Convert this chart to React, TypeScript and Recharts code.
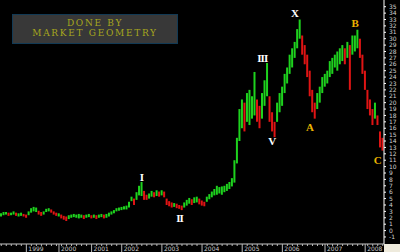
import React from 'react';
import { ComposedChart, Bar, Cell, XAxis, YAxis, ReferenceDot } from 'recharts';

// Daily-ish price bars (low / high)
const LOWS = [
  2.2, 2.4, 2.5, 2.3, 2.4, 2.5, 2.3, 2.2, 2.3, 2.2,
  2.0, 2.4, 2.8, 3.0, 2.9, 2.5, 2.3, 2.5, 2.9, 3.0,
  2.8, 2.5, 2.3, 2.2, 1.9, 1.7, 1.5, 1.8, 2.0, 2.1,
  2.0, 1.9, 2.0, 1.8, 2.0, 2.1, 1.9, 2.0, 1.8, 2.0,
  2.1, 1.9, 2.0, 2.2, 2.5, 2.7, 3.0, 3.1, 3.2, 3.3,
  3.3, 3.6, 4.6, 4.0, 4.8, 5.5, 5.4, 4.8, 4.8, 5.0,
  5.3, 5.2, 5.4, 5.3, 5.5, 5.2, 4.0, 3.8, 3.6, 3.7,
  3.5, 3.4, 3.2, 3.6, 3.9, 4.2, 4.0, 4.3, 4.4, 4.1,
  3.9, 3.8, 4.5, 4.9, 5.2, 5.5, 5.6, 5.8, 5.6, 6.0,
  6.2, 6.5, 6.9, 7.5, 10.5, 14.0, 16.0, 15.5, 17.0, 16.5,
  17.5, 18.0, 17.0, 16.0, 17.5, 19.5, 21.0, 17.0, 15.5, 14.6,
  17.0, 18.5, 19.5, 21.5, 23.0, 24.5, 25.5, 27.0, 28.5, 30.0,
  27.5, 26.0, 24.0, 21.0, 18.5, 17.5, 19.0, 20.0, 21.5, 22.5,
  23.0, 24.0, 24.5, 25.5, 25.0, 26.0, 26.5, 26.0, 27.0, 22.0,
  27.5, 28.0, 28.5, 27.0, 24.5, 22.0, 19.0, 18.0, 16.5, 17.5,
  16.5, 13.0, 12.5,
];

const HIGHS = [
  2.7, 2.9, 2.9, 2.8, 2.8, 3.0, 2.8, 2.7, 2.8, 2.6,
  2.5, 3.0, 3.5, 3.7, 3.6, 3.1, 2.9, 3.0, 3.4, 3.5,
  3.3, 3.0, 2.8, 2.7, 2.5, 2.3, 2.2, 2.4, 2.5, 2.6,
  2.5, 2.6, 2.5, 2.4, 2.5, 2.6, 2.4, 2.5, 2.4, 2.5,
  2.6, 2.5, 2.6, 2.8, 3.0, 3.2, 3.5, 3.6, 3.7, 3.8,
  3.9, 4.5, 5.3, 5.0, 6.0, 7.0, 7.6, 6.2, 5.6, 5.8,
  6.2, 6.0, 6.3, 6.1, 6.3, 6.1, 5.0, 4.6, 4.4, 4.3,
  4.2, 4.0, 3.9, 4.4, 4.8, 5.1, 4.9, 5.2, 5.3, 5.0,
  4.7, 4.5, 5.3, 5.7, 6.1, 6.5, 7.0, 6.8, 6.9, 7.0,
  7.3, 7.6, 8.2, 11.0, 14.5, 19.0, 20.5, 20.0, 21.5, 22.0,
  21.0, 24.8, 20.5, 19.5, 21.5, 23.5, 26.2, 21.0, 18.5, 17.0,
  20.0, 21.5, 22.5, 24.5, 25.5, 27.5, 28.5, 29.5, 31.5, 33.0,
  30.5, 29.0, 27.5, 25.0, 22.0, 20.0, 21.5, 22.5, 24.0, 24.5,
  25.0, 26.5, 27.0, 27.5, 28.0, 28.5, 29.0, 28.5, 29.5, 29.0,
  30.5, 30.5, 31.4, 30.0, 27.5, 25.0, 22.0, 20.5, 19.0, 20.0,
  18.0, 15.5, 14.5,
];

const YEAR_LABELS = ['1999', '2000', '2001', '2002', '2003', '2004', '2005', '2006', '2007', '2008'];
const YEAR_TICK_INDEX = [10, 23, 36, 48, 64, 80, 96, 112, 129, 145];

const PRICE_TICKS = [
  -1, 0, 1, 2, 3, 4, 5, 6, 7, 8, 9, 10, 11, 12, 13, 14, 15, 16, 17, 18,
  19, 20, 21, 22, 23, 24, 25, 26, 27, 28, 29, 30, 31, 32, 33, 34, 35,
];

const WAVE_LABELS = ['I', 'II', 'III', 'V', 'X', 'A', 'B', 'C'];
const WAVE_INDEX = [56, 71, 104, 108, 117, 123, 141, 150];
const WAVE_VALUE = [8.4, 2.0, 27.0, 14.0, 34.0, 16.2, 32.5, 11.05];
const WAVE_GOLD = [false, false, false, false, false, true, true, true];

const GREEN = '#1ed21e';
const RED = '#e01414';

const data = LOWS.map((lo, i) => {
  const mid = (lo + HIGHS[i]) / 2;
  const prevMid = i > 0 ? (LOWS[i - 1] + HIGHS[i - 1]) / 2 : mid;
  return { i, range: [lo, HIGHS[i]], up: mid >= prevMid - 0.12 };
});

const xTicks = Array.from(
  new Set([...data.filter((d) => d.i % 2 === 0).map((d) => d.i), ...YEAR_TICK_INDEX])
).sort((a, b) => a - b);

const XTick = (props: any) => {
  const { x, y, payload } = props;
  const k = YEAR_TICK_INDEX.indexOf(payload.value);
  if (k >= 0) {
    return (
      <g>
        <line x1={x} y1={y} x2={x} y2={y + 8} stroke="#b8b8b8" strokeWidth={1} />
        <text x={x + 2} y={y + 7} fontSize={6} fill="#c8c8c8" fontFamily="DejaVu Sans">
          {YEAR_LABELS[k]}
        </text>
      </g>
    );
  }
  return <line x1={x} y1={y} x2={x} y2={y + 2} stroke="#b8b8b8" strokeWidth={1} />;
};

export default function App() {
  return (
    <div style={{ position: 'absolute', left: 0, top: 0, width: 400, height: 252, background: '#000' }}>
      <ComposedChart width={400} height={252} data={data} margin={{ top: 0, right: 0, bottom: 0, left: 0 }}>
        <XAxis
          dataKey="i"
          type="category"
          ticks={xTicks}
          interval={0}
          tick={<XTick />}
          tickLine={false}
          tickSize={0}
          tickMargin={0}
          height={8}
          axisLine={{ stroke: '#c8c8c8' }}
        />
        <YAxis
          orientation="right"
          width={16}
          domain={[-2.1, 36.05]}
          ticks={PRICE_TICKS}
          interval={0}
          tick={{ fill: '#d0d0d0', fontSize: 6, fontFamily: 'DejaVu Sans' }}
          tickSize={2}
          tickMargin={3}
          tickLine={{ stroke: '#ffffff' }}
          axisLine={{ stroke: '#ffffff' }}
        />
        <Bar dataKey="range" barSize={2} isAnimationActive={false}>
          {data.map((d) => (
            <Cell key={d.i} fill={d.up ? GREEN : RED} />
          ))}
        </Bar>
        {WAVE_LABELS.map((w, k) => (
          <ReferenceDot
            key={w}
            x={WAVE_INDEX[k]}
            y={WAVE_VALUE[k]}
            r={0}
            fill="none"
            stroke="none"
            label={{
              value: w,
              position: 'center',
              fill: WAVE_GOLD[k] ? '#eab400' : '#ffffff',
              fontSize: 11,
              fontWeight: 700,
              fontFamily: 'Liberation Serif',
              letterSpacing: w.length > 1 ? -1 : 0,
            }}
          />
        ))}
      </ComposedChart>
      <div
        style={{
          position: 'absolute',
          left: 12,
          top: 14,
          width: 166,
          height: 30,
          boxSizing: 'border-box',
          background: '#383838',
          border: '1px solid #123a55',
          color: '#a6a61e',
          fontFamily: 'DejaVu Serif',
          fontSize: 9,
          lineHeight: '10px',
          letterSpacing: 1.7,
          textAlign: 'center',
          paddingTop: 3,
        }}
      >
        <div>DONE BY</div>
        <div>MARKET GEOMETRY</div>
      </div>
      <div style={{ position: 'absolute', left: 384, top: 244, width: 16, height: 8, background: '#eeeadc' }} />
    </div>
  );
}
